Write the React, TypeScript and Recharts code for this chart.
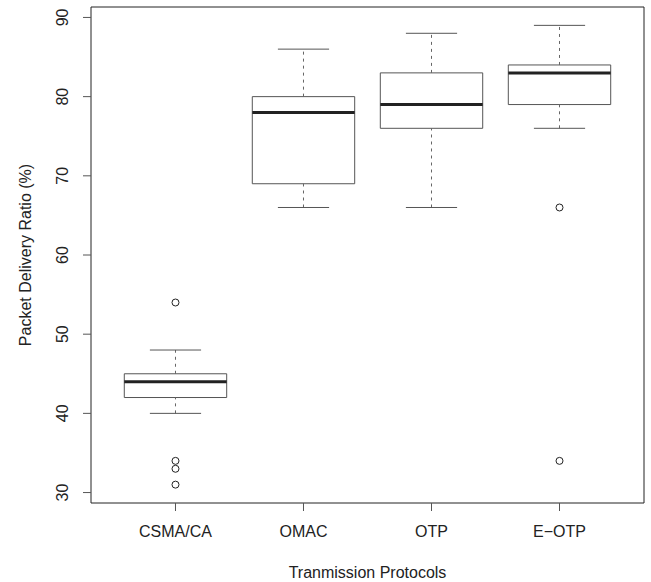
import { ComposedChart, XAxis, YAxis, Scatter, ReferenceArea, ReferenceLine, Label } from "recharts";

const protocols = ["CSMA/CA", "OMAC", "OTP", "E\u2212OTP"];
const lowerWhisker = [40, 66, 66, 76];
const lowerQuartile = [42, 69, 76, 79];
const medians = [44, 78, 79, 83];
const upperQuartile = [45, 80, 83, 84];
const upperWhisker = [48, 86, 88, 89];

const outlierGroup = [1, 1, 1, 1, 4, 4];
const outlierValue = [54, 34, 33, 31, 66, 34];

const yTicks = [30, 40, 50, 60, 70, 80, 90];

const xDomain: [number, number] = [0.34, 4.66];
const yDomain: [number, number] = [28.68, 91.32];

const FONT = "'Liberation Sans', Arial, Helvetica, sans-serif";
const INK = "#222";
const SOFT = "#555";

const outliers = outlierGroup.map((g, i) => ({ x: g, y: outlierValue[i] }));

const XTick = ({ x, y, payload }: any) => (
  <text x={x} y={y} dy="0.71em" textAnchor="middle" fontFamily={FONT} fontSize={16} fill={INK}>
    {protocols[payload.value - 1]}
  </text>
);

const YTick = ({ x, y, payload }: any) => (
  <text x={x} y={y} transform={`rotate(-90, ${x}, ${y})`} textAnchor="middle" fontFamily={FONT} fontSize={16} fill={INK}>
    {payload.value}
  </text>
);

const Circle = ({ cx, cy }: any) => <circle cx={cx} cy={cy} r={3.5} fill="none" stroke={INK} strokeWidth={1} />;

export default function App() {
  return (
    <div style={{ position: "absolute", left: 0, top: 0, background: "#fff" }}>
      <ComposedChart width={651} height={582} margin={{ top: 7, right: 7, bottom: 0, left: 0 }}>
        <XAxis
          type="number"
          dataKey="x"
          domain={xDomain}
          ticks={[1, 2, 3, 4]}
          height={79}
          axisLine={false}
          tickSize={8}
          tickMargin={15}
          tickLine={{ stroke: SOFT }}
          tick={<XTick />}
        >
          <Label
            content={({ viewBox }: any) => (
              <text x={viewBox.x + viewBox.width / 2} y={578} textAnchor="middle" fontFamily={FONT} fontSize={16} fill={INK}>
                Tranmission Protocols
              </text>
            )}
          />
        </XAxis>
        <YAxis
          type="number"
          dataKey="y"
          domain={yDomain}
          ticks={yTicks}
          width={91}
          axisLine={false}
          tickSize={8}
          tickMargin={15}
          tickLine={{ stroke: SOFT }}
          tick={<YTick />}
        >
          <Label
            content={({ viewBox }: any) => {
              const cy = viewBox.y + viewBox.height / 2;
              return (
                <text x={31} y={cy} transform={`rotate(-90, 31, ${cy})`} textAnchor="middle" fontFamily={FONT} fontSize={16} fill={INK}>
                  Packet Delivery Ratio (%)
                </text>
              );
            }}
          />
        </YAxis>

        {/* plot frame */}
        <ReferenceArea x1={xDomain[0]} x2={xDomain[1]} y1={yDomain[0]} y2={yDomain[1]} fill="none" stroke={INK} strokeWidth={1} ifOverflow="visible" />

        {protocols.map((p, i) => {
          const c = i + 1;
          return [
            <ReferenceLine key={`lw${p}`} segment={[{ x: c, y: lowerWhisker[i] }, { x: c, y: lowerQuartile[i] }]} stroke="#666" strokeDasharray="3 4" />,
            <ReferenceLine key={`uw${p}`} segment={[{ x: c, y: upperQuartile[i] }, { x: c, y: upperWhisker[i] }]} stroke="#666" strokeDasharray="3 4" />,
            <ReferenceLine key={`lc${p}`} segment={[{ x: c - 0.2, y: lowerWhisker[i] }, { x: c + 0.2, y: lowerWhisker[i] }]} stroke={SOFT} />,
            <ReferenceLine key={`uc${p}`} segment={[{ x: c - 0.2, y: upperWhisker[i] }, { x: c + 0.2, y: upperWhisker[i] }]} stroke={SOFT} />,
            <ReferenceArea key={`bx${p}`} x1={c - 0.4} x2={c + 0.4} y1={lowerQuartile[i]} y2={upperQuartile[i]} fill="#fff" fillOpacity={1} stroke={SOFT} strokeWidth={1} />,
            <ReferenceLine key={`md${p}`} segment={[{ x: c - 0.4, y: medians[i] }, { x: c + 0.4, y: medians[i] }]} stroke={INK} strokeWidth={3} />,
          ];
        })}

        <Scatter data={outliers} dataKey="y" shape={<Circle />} isAnimationActive={false} />
      </ComposedChart>
    </div>
  );
}
